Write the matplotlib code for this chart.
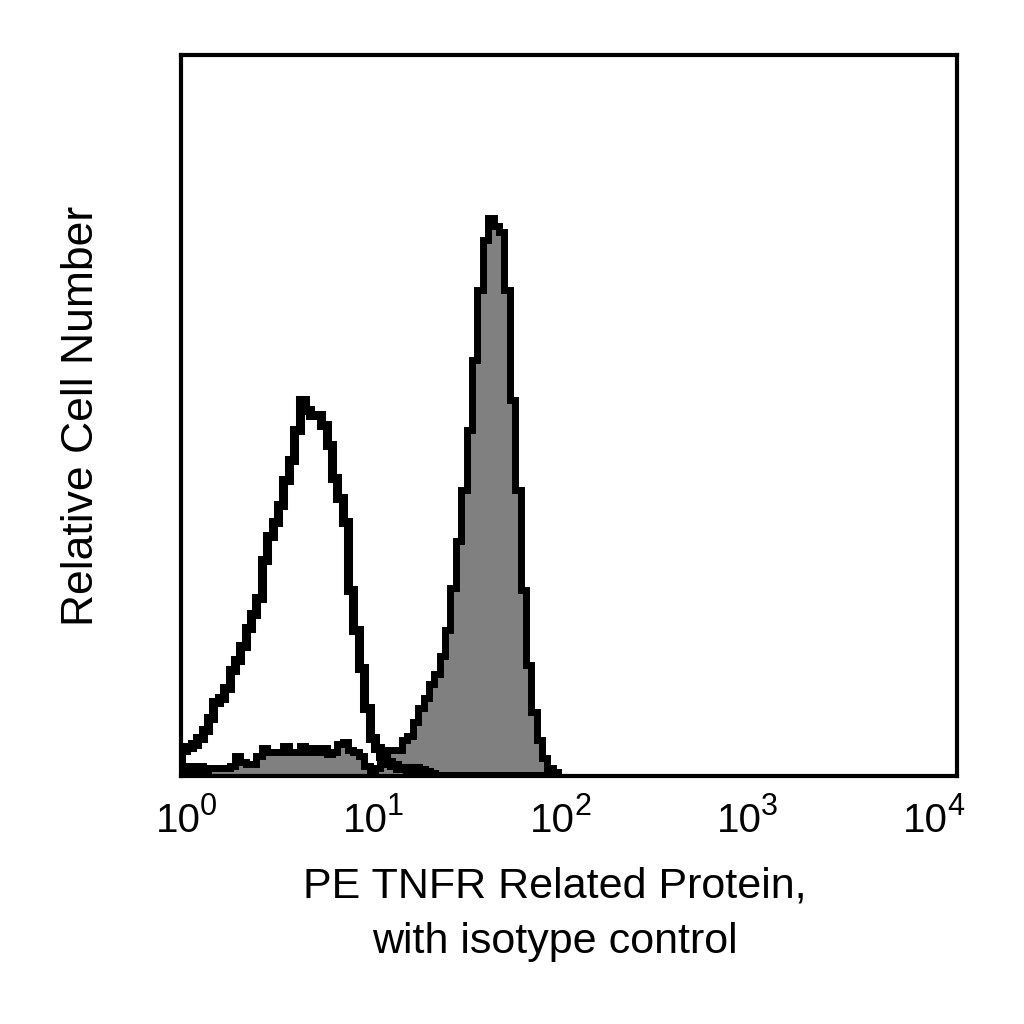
"""
Histograma de citometría: PE TNFR Related Protein vs control de isotipo.
Alturas leídas a ojo de la figura de referencia (conteo relativo por canal).
"""
import numpy as np
import matplotlib
matplotlib.use('Agg')
import matplotlib.pyplot as plt
import matplotlib.transforms as mtransforms

plt.rcParams['font.family'] = ['Liberation Sans', 'DejaVu Sans']

BINS_POR_DECADA = 36

# muestra teñida (relleno gris), un valor por canal desde 10^0
muestra = [6, 10, 6, 10, 6, 8, 8, 8, 8, 10,
           20, 14, 12, 12, 20, 28, 24, 24, 24, 30,
           24, 24, 30, 24, 28, 24, 28, 22, 24, 32,
           34, 26, 24, 20, 10, 6, 8, 12, 26, 26,
           26, 36, 40, 54, 68, 78, 92, 102, 120, 146,
           188, 235, 286, 346, 416, 486, 536, 558, 550, 544,
           486, 376, 286, 186, 111, 64, 36, 18, 8, 4]

# control de isotipo (línea negra)
isotipo = [26, 29, 32, 38, 46, 58, 74, 78, 88, 106,
           116, 130, 148, 162, 178, 216, 240, 254, 271, 296,
           316, 346, 376, 366, 361, 361, 351, 331, 298, 278,
           254, 186, 146, 108, 68, 38, 28, 20, 14, 11,
           8, 8, 6, 8, 6, 4, 2, 0, 0, 0,
           0, 0, 0, 0, 0, 0, 0, 0, 0, 0,
           0, 0, 0, 0, 0, 0, 0, 0, 0, 0]

ticks = [1, 10, 100, 1000, 10000]
tick_base = '10'
tick_exp = ['0', '1', '2', '3', '4']

# corrimiento horizontal (px) de cada etiqueta respecto a su tick, como en el original
DX_ETIQ = [20, 13, 6, -1, -9]

bordes = 10 ** (np.arange(len(muestra) + 1) / BINS_POR_DECADA)

fig = plt.figure(figsize=(10.24, 10.24), dpi=100)
ax = fig.add_axes([0.1768, 0.2422, 0.7578, 0.7041])

ax.stairs(muestra, bordes, fill=True, color='#808080', zorder=1)
ax.stairs(muestra, bordes, color='black', lw=5.0, zorder=2)
ax.stairs(isotipo, bordes, color='black', lw=6.5, zorder=3)

ax.set_xscale('log')
ax.set_xlim(1, 10000)
ax.set_ylim(0, 721)
ax.set_xticks(ticks)
ax.xaxis.set_minor_locator(matplotlib.ticker.NullLocator())
ax.tick_params(axis='x', length=0, labelbottom=False)
ax.set_yticks([])
for s in ax.spines.values():
    s.set_linewidth(3)

# etiquetas 10^k armadas a mano (exponente grande, como en el original)
trans = ax.get_xaxis_transform()
for t, e, dx in zip(ticks, tick_exp, DX_ETIQ):
    ax.text(t, 0, tick_base, fontsize=29, ha='right', va='baseline',
            transform=mtransforms.offset_copy(trans, x=dx, y=-56, units='dots'))
    ax.text(t, 0, e, fontsize=22, ha='left', va='baseline',
            transform=mtransforms.offset_copy(trans, x=dx - 1, y=-39, units='dots'))

ax.set_xlabel('PE TNFR Related Protein,\nwith isotype control',
              fontsize=31, linespacing=1.5, va='top')
ax.xaxis.set_label_coords(0.482, -0.125)
ax.set_ylabel('Relative Cell Number', fontsize=32, labelpad=57)

fig.savefig('out.png', dpi=100)
